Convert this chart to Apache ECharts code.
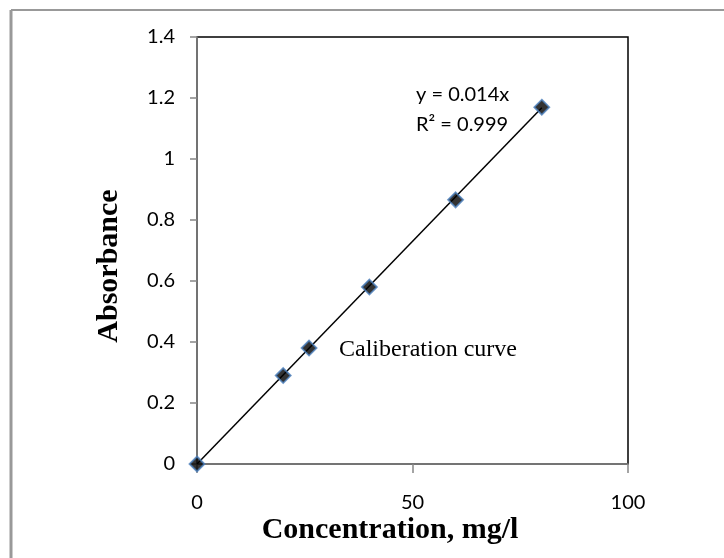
<!DOCTYPE html>
<html>
<head>
<meta charset="utf-8">
<script src="https://cdn.jsdelivr.net/npm/echarts@6/dist/echarts.min.js"></script>
<style>
html,body{margin:0;padding:0;background:#fff;}
#chart{width:724px;height:558px;}
</style>
</head>
<body>
<div id="chart"></div>
<script>
// Data
const concentration = [0, 20, 26, 40, 60, 80];
const absorbance = [0, 0.29, 0.38, 0.58, 0.866, 1.17];
const trendX = [0, 80];
const trendY = [0, 1.168];
const xTicks = [0, 50, 100];
const yTicks = [0, 0.2, 0.4, 0.6, 0.8, 1, 1.2, 1.4];
const equationText = 'y = 0.014x';
const r2Text = 'R² = 0.999';
const seriesLabel = 'Caliberation curve';
const xTitle = 'Concentration, mg/l';
const yTitle = 'Absorbance';

const chart = echarts.init(document.getElementById('chart'), null, {renderer: 'canvas'});
const axisGray = '#868686';
const sansFamily = 'Lato, "Open Sans", "Liberation Sans", sans-serif';
const tickFont = {fontFamily: sansFamily, fontSize: 20, color: '#000'};

chart.setOption({
  animation: false,
  backgroundColor: '#fff',
  grid: {left: 197, top: 37, width: 431, height: 427, show: true, borderColor: '#000', borderWidth: 1.5, backgroundColor: 'transparent'},
  xAxis: {
    type: 'value', min: 0, max: 100, interval: 50,
    axisLine: {show: true, lineStyle: {color: axisGray, width: 1.5}},
    axisTick: {show: true, inside: false, length: 9, lineStyle: {color: axisGray, width: 1.5}},
    splitLine: {show: false},
    axisLabel: Object.assign({margin: 29, formatter: v => String(v)}, tickFont)
  },
  yAxis: {
    type: 'value', min: 0, max: 1.4, interval: 0.2,
    axisLine: {show: true, lineStyle: {color: axisGray, width: 1.5}},
    axisTick: {show: true, inside: false, length: 7, lineStyle: {color: axisGray, width: 1.5}},
    splitLine: {show: false},
    axisLabel: Object.assign({margin: 22, formatter: v => String(Math.round(v * 10) / 10)}, tickFont)
  },
  series: [
    {
      type: 'line',
      data: trendX.map((x, i) => [x, trendY[i]]),
      symbol: 'none',
      lineStyle: {color: '#000', width: 1.5},
      z: 2
    },
    {
      type: 'scatter',
      data: concentration.map((x, i) => [x, absorbance[i]]),
      symbol: 'diamond',
      symbolSize: 15,
      itemStyle: {color: '#000', borderColor: '#4a7ebb', borderWidth: 1.8},
      z: 3
    }
  ],
  graphic: [
    {type: 'line', shape: {x1: 11, y1: 10, x2: 724, y2: 10}, style: {stroke: '#999', lineWidth: 2}},
    {type: 'line', shape: {x1: 11, y1: 10, x2: 11, y2: 558}, style: {stroke: '#999', lineWidth: 3}},
    {type: 'text', x: 416, y: 95, style: {text: equationText, font: '20px ' + sansFamily, fill: '#000', textVerticalAlign: 'middle'}},
    {type: 'text', x: 416, y: 125, style: {text: r2Text, font: '20px ' + sansFamily, fill: '#000', textVerticalAlign: 'middle'}},
    {type: 'text', x: 339, y: 350, style: {text: seriesLabel, font: '24px "Liberation Serif", serif', fill: '#000', textVerticalAlign: 'middle'}},
    {type: 'text', x: 390, y: 530, style: {text: xTitle, font: 'bold 30px "Liberation Serif", serif', fill: '#000', textAlign: 'center', textVerticalAlign: 'middle'}},
    {type: 'text', x: 109, y: 266, rotation: Math.PI / 2, style: {text: yTitle, font: 'bold 30px "Liberation Serif", serif', fill: '#000', textAlign: 'center', textVerticalAlign: 'middle'}}
  ]
});
</script>
</body>
</html>
